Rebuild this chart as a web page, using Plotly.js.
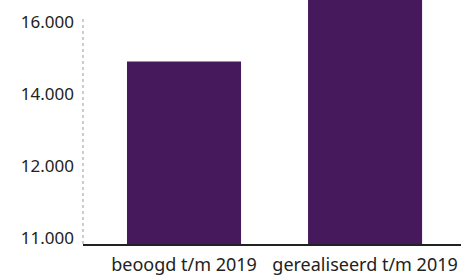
<!DOCTYPE html>
<html><head><meta charset="utf-8">
<script src="https://cdn.plot.ly/plotly-3.0.1.min.js"></script>
<style>html,body{margin:0;padding:0;background:#fff}#c{width:461px;height:277px}</style>
</head><body><div id="c"></div>
<script>
const categories = ['beoogd t/m 2019', 'gerealiseerd t/m 2019'];
const values = [14900, 17200];
const tickValues = [10000, 12000, 14000, 16000];
const tickLabels = ['11.000', '12.000', '14.000', '16.000'];

const font = 'Noto Sans, Open Sans, sans-serif';
Plotly.newPlot('c', [{
  type: 'bar', x: categories, y: values,
  marker: {color: '#46195c'}, hoverinfo: 'none'
}], {
  width: 461, height: 277,
  margin: {l: 83, r: 0, t: 0, b: 33},
  paper_bgcolor: '#fff', plot_bgcolor: '#fff',
  bargap: 0.37, showlegend: false,
  xaxis: {range: [-0.558, 1.53], showline: true, linecolor: '#222', linewidth: 1.5,
          ticks: '', ticklabelstandoff: 4,
          tickfont: {family: font, size: 18, color: '#222'}, fixedrange: true},
  yaxis: {range: [9838, 16602], tickvals: tickValues, ticktext: tickLabels,
          showgrid: false, zeroline: false, showline: false, ticks: '',
          ticklabelstandoff: 8,
          tickfont: {family: font, size: 17, color: '#222'}, fixedrange: true},
  shapes: [{type: 'line', xref: 'paper', yref: 'y', x0: 0, x1: 0, y0: 9838, y1: 16150,
            line: {color: '#999', width: 1, dash: '3px,3px'}}]
}, {displayModeBar: false, staticPlot: true});
</script></body></html>
